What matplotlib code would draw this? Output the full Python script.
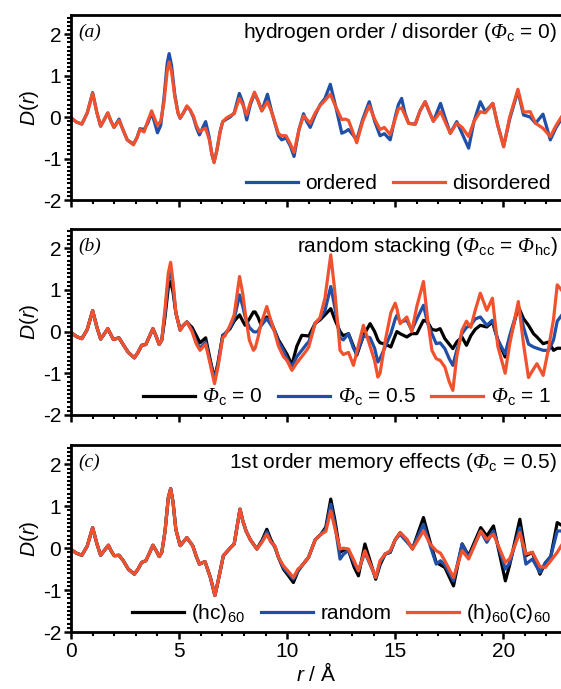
import numpy as np
import matplotlib
matplotlib.use("Agg")
import matplotlib.pyplot as plt
from matplotlib.ticker import MultipleLocator

plt.rcParams['font.family'] = ['Liberation Sans', 'DejaVu Sans']
plt.rcParams['mathtext.fontset'] = 'custom'
plt.rcParams['mathtext.rm'] = 'Liberation Sans'
plt.rcParams['mathtext.it'] = 'Liberation Sans:italic'
plt.rcParams['mathtext.sf'] = 'Liberation Serif:italic'

# ---------------- data (r in Angstrom, D(r)) ----------------
# (a) hydrogen order / disorder
r_a = [0.0, 0.25, 0.5, 0.75, 1.0, 1.2, 1.37, 1.55, 1.7, 1.85, 1.99, 2.22, 2.4, 2.6, 2.89, 3.05, 3.19, 3.38,
       3.55, 3.73, 3.88, 4.0, 4.15, 4.3, 4.45, 4.54, 4.65, 4.8, 4.95, 5.05, 5.2, 5.36, 5.5, 5.66, 5.8, 5.94,
       6.1, 6.23, 6.4, 6.52, 6.62, 6.75, 6.9, 7.02, 7.2, 7.36, 7.55, 7.79, 7.95, 8.13, 8.3, 8.49, 8.65, 8.83,
       9.09, 9.3, 9.6, 9.75, 9.95, 10.15, 10.32, 10.55, 10.76, 10.9, 11.07, 11.3, 11.53, 11.75, 12.0, 12.25,
       12.53, 12.7, 12.84, 13.0, 13.22, 13.5, 13.8, 14.05, 14.3, 14.5, 14.77, 15.0, 15.15, 15.3, 15.45, 15.62,
       15.93, 16.15, 16.39, 16.6, 16.77, 17.1, 17.3, 17.55, 17.85, 18.1, 18.4, 18.65, 18.94, 19.17, 19.52,
       19.75, 20.02, 20.3, 20.68, 20.94, 21.25, 21.5, 21.84, 22.18, 22.45, 22.69]
ordered = [-0.02, -0.12, -0.17, 0.10, 0.59, 0.10, -0.22, -0.05, 0.10, -0.10, -0.25, -0.05, -0.30, -0.55,
           -0.65, -0.50, -0.28, -0.30, -0.15, 0.10, -0.15, -0.38, -0.20, 0.45, 1.30, 1.53, 1.25, 0.55, 0.10,
           -0.03, 0.10, 0.25, 0.18, 0.00, -0.25, -0.43, -0.25, -0.11, -0.50, -0.90, -1.08, -0.80, -0.35, -0.11,
           -0.05, 0.00, 0.10, 0.57, 0.35, -0.07, 0.30, 0.57, 0.40, 0.15, 0.55, 0.10, -0.45, -0.55, -0.50,
           -0.70, -0.95, -0.30, 0.08, -0.10, -0.25, 0.05, 0.30, 0.45, 0.79, 0.25, -0.39, -0.35, -0.30, -0.40,
           -0.55, -0.05, 0.37, -0.10, -0.45, -0.40, -0.55, 0.00, 0.30, 0.45, 0.10, -0.15, -0.17, 0.15, 0.37,
           0.10, -0.10, 0.33, 0.00, -0.39, -0.11, -0.40, -0.75, -0.10, 0.37, 0.13, 0.33, -0.20, -0.70, -0.05,
           0.63, 0.05, 0.00, -0.15, 0.07, -0.55, -0.25, -0.05]
disordered = [-0.02, -0.12, -0.17, 0.10, 0.57, 0.10, -0.22, -0.05, 0.10, -0.10, -0.25, -0.08, -0.30, -0.55,
              -0.67, -0.50, -0.30, -0.36, -0.10, 0.15, -0.05, -0.20, -0.10, 0.35, 1.10, 1.33, 1.10, 0.50,
              0.10, -0.02, 0.10, 0.27, 0.18, 0.03, -0.20, -0.35, -0.30, -0.27, -0.55, -0.90, -1.10, -0.80,
              -0.35, -0.11, -0.02, 0.03, 0.08, 0.45, 0.30, 0.05, 0.35, 0.60, 0.40, 0.15, 0.37, 0.10, -0.40,
              -0.45, -0.45, -0.65, -0.85, -0.30, 0.03, -0.05, -0.15, 0.10, 0.28, 0.40, 0.55, 0.25, -0.06,
              -0.05, -0.08, -0.30, -0.62, -0.10, 0.27, -0.05, -0.30, -0.25, -0.42, -0.05, 0.20, 0.22, 0.05,
              -0.15, -0.18, 0.15, 0.37, 0.10, -0.10, 0.13, -0.10, -0.39, -0.15, -0.25, -0.47, -0.10, 0.13,
              0.10, 0.33, -0.20, -0.72, 0.00, 0.67, 0.12, 0.13, -0.15, -0.27, -0.47, -0.20, 0.00]

# (b) random stacking
r_b = [0.0, 0.25, 0.5, 0.75, 1.0, 1.2, 1.37, 1.55, 1.7, 1.85, 1.96, 2.22, 2.4, 2.65, 2.93, 3.1, 3.27, 3.46,
       3.6, 3.79, 3.93, 4.08, 4.2,
       4.35, 4.5, 4.61, 4.72, 4.85, 5.05, 5.2, 5.36, 5.5, 5.6, 5.8, 5.97, 6.23, 6.45, 6.64, 6.8, 7.02, 7.13,
       7.36, 7.55, 7.8, 7.95, 8.06, 8.25, 8.44, 8.52, 8.65, 8.8, 9.06, 9.2, 9.44, 9.6, 9.83, 10.0, 10.22,
       10.45, 10.68, 10.9, 11.0, 11.3, 11.52, 11.75, 12.02, 12.2, 12.45, 12.6, 12.84, 13.07, 13.22, 13.53,
       13.84, 14.05, 14.2, 14.3, 14.55, 14.8, 15.0, 15.08, 15.23, 15.54, 15.77, 16.0, 16.31, 16.5, 16.7,
       16.9, 17.08, 17.3, 17.5, 17.67, 17.85, 18.09, 18.3, 18.5, 18.7, 18.94, 19.24, 19.5, 19.75, 20.09,
       20.3, 20.7, 20.94, 21.17, 21.4, 21.56, 21.85, 22.1, 22.33, 22.5, 22.69]
head_b = [-0.02, -0.12, -0.17, 0.05, 0.50, 0.10, -0.18, -0.05, 0.07, -0.08, -0.19, -0.15, -0.30, -0.50,
          -0.63, -0.50, -0.33, -0.31, -0.15, 0.07, -0.10, -0.31, -0.20]
phi0_tail = [0.35, 1.05, 1.20, 0.95, 0.45, 0.05, 0.15, 0.23, 0.15, 0.10, -0.10, -0.27, -0.15, -0.70, -1.13,
             -0.75, -0.09, -0.05, 0.07, 0.25, 0.40, 0.25, 0.15, 0.30, 0.47, 0.47, 0.35, 0.15, 0.35, 0.30,
             0.00, -0.20, -0.40, -0.55, -0.80, -0.35, -0.09, -0.10, -0.11, 0.20, 0.28, 0.40, 0.55, 0.30,
             0.00, -0.10, -0.05, -0.35, -0.57, -0.10, 0.19, 0.00, -0.20, -0.27, -0.30, -0.37, -0.10, 0.00,
             -0.05, -0.13, -0.05, -0.05, 0.27, 0.23, 0.05, 0.03, 0.07, -0.17, -0.30, -0.41, -0.25, -0.13,
             -0.33, -0.10, 0.05, 0.15, 0.11, 0.23, -0.20, -0.61, -0.20, 0.60, 0.31, 0.15, -0.05, -0.13,
             -0.29, -0.25, -0.45, -0.40, -0.40]
phi05_tail = [0.45, 1.25, 1.44, 1.10, 0.45, 0.03, 0.15, 0.23, 0.12, 0.03, -0.25, -0.40, -0.25, -0.75, -1.15,
              -0.80, -0.10, -0.05, 0.10, 0.30, 0.88, 0.60, 0.35, 0.10, 0.00, -0.01, 0.00, 0.15, 0.31, 0.20,
              0.00, -0.25, -0.45, -0.65, -0.85, -0.60, -0.45, -0.30, -0.25, 0.20, 0.31, 0.50, 1.08, 0.60,
              -0.15, -0.20, -0.05, -0.40, -0.53, -0.10, -0.15, -0.40, -0.73, -0.65, -0.35, -0.05, 0.30, 0.39,
              0.23, 0.27, 0.03, 0.30, 0.63, 0.20, -0.05, -0.29, -0.27, -0.41, -0.65, -0.81, -0.45, -0.05,
              0.10, 0.15, 0.30, 0.35, 0.15, 0.27, -0.20, -0.53, -0.10, 0.60, 0.11, -0.30, -0.37, -0.40,
              -0.45, -0.45, -0.20, 0.25, 0.38]
phi1_tail = [0.55, 1.40, 1.66, 1.20, 0.45, 0.03, 0.15, 0.23, 0.10, 0.00, -0.30, -0.45, -0.30, -0.80, -1.25,
             -0.85, -0.15, -0.10, 0.15, 0.40, 1.32, 0.90, 0.45, -0.20, -0.45, -0.40, -0.15, 0.20, 0.60, 0.35,
             -0.05, -0.35, -0.60, -0.70, -0.93, -0.75, -0.60, -0.45, -0.37, 0.20, 0.33, 0.80, 1.84, 1.00,
             -0.45, -0.55, -0.50, -0.81, -0.50, 0.15, -0.35, -0.70, -1.09, -1.00, -0.20, 0.45, 0.68, 0.55,
             0.19, 0.35, 0.00, 0.60, 1.20, 0.30, -0.45, -0.65, -0.69, -0.85, -1.20, -1.41, -0.60, 0.03,
             0.25, 0.10, 0.50, 0.92, 0.51, 0.80, -0.35, -1.00, -0.30, 0.72, -0.30, -1.10, -0.90, -0.77,
             -1.05, -0.40, 0.30, 1.12, 1.00]

# (c) 1st order memory effects
r_c = [0.0, 0.25, 0.5, 0.75, 1.0, 1.2, 1.37, 1.55, 1.73, 1.87, 2.0, 2.22, 2.42, 2.65, 2.93, 3.1, 3.27, 3.46,
       3.6, 3.79, 3.93, 4.08, 4.2, 4.35, 4.5, 4.61, 4.72, 4.85, 5.05, 5.2, 5.36, 5.5, 5.63, 5.8, 5.94, 6.2,
       6.45, 6.66, 6.8, 7.05, 7.36, 7.55, 7.82, 7.95, 8.1, 8.3, 8.6,
       8.85, 9.06, 9.25, 9.44, 9.6, 9.83, 10.05, 10.29, 10.5, 10.68, 10.99, 11.3, 11.56, 11.79, 12.02, 12.2,
       12.45, 12.6, 12.84, 13.1, 13.3, 13.6, 14.1, 14.3, 14.54, 14.77, 15.0, 15.23, 15.54, 15.8, 16.31,
       16.62, 16.9, 17.1, 17.3, 17.7, 18.1, 18.4, 18.96, 19.24, 19.55, 20.1, 20.3, 20.77, 21.05, 21.35,
       21.7, 21.95, 22.2, 22.5, 22.69]
head_c = [-0.03, -0.12, -0.17, 0.05, 0.49, 0.10, -0.17, -0.05, 0.07, -0.08, -0.18, -0.17, -0.30, -0.50,
          -0.62, -0.50, -0.34, -0.30, -0.15, 0.07, -0.05, -0.20, -0.10, 0.40, 1.20, 1.42, 1.10, 0.45, 0.06,
          0.15, 0.25, 0.15, 0.06, -0.20, -0.38, -0.32, -0.70, -1.13, -0.80, -0.18, 0.00, 0.10, 0.93, 0.65,
          0.41, 0.20, -0.02]
hc60_tail = [0.20, 0.45, 0.20, 0.02, -0.22, -0.50, -0.65, -0.82, -0.55, -0.42, -0.22, 0.20, 0.33, 0.50, 1.17,
             0.70, -0.10, -0.05, -0.05, -0.45, -0.66, 0.10, -0.74, -0.40, -0.14, -0.10, 0.20, 0.37, 0.20,
             -0.02, 0.73, 0.14, -0.34, -0.40, -0.46, -0.90, 0.10, -0.18, 0.49, 0.29, 0.53, -0.78, -0.40,
             0.69, -0.18, -0.10, -0.62, -0.35, -0.20, 0.61, 0.55]
random_tail = [0.18, 0.39, 0.15, 0.03, -0.22, -0.47, -0.60, -0.74, -0.55, -0.42, -0.22, 0.20, 0.33, 0.45,
               1.05, 0.60, -0.26, -0.15, -0.05, -0.35, -0.54, -0.10, -0.70, -0.35, -0.14, -0.10, 0.20, 0.33,
               0.15, 0.00, 0.57, 0.06, -0.38, -0.30, -0.40, -0.78, 0.10, -0.22, 0.41, 0.14, 0.41, -0.50,
               -0.35, 0.49, -0.38, -0.26, -0.58, -0.35, -0.20, 0.41, 0.41]
h60c60_tail = [0.15, 0.33, 0.15, 0.05, -0.22, -0.42, -0.55, -0.70, -0.50, -0.42, -0.22, 0.20, 0.33, 0.40,
               0.89, 0.50, -0.02, 0.00, -0.02, -0.30, -0.54, -0.06, -0.70, -0.30, -0.14, -0.06, 0.20, 0.37,
               0.21, -0.02, 0.41, 0.10, -0.06, -0.12, -0.30, -0.70, -0.06, -0.26, 0.41, 0.21, 0.33, -0.34,
               -0.25, 0.37, -0.14, -0.10, -0.44, -0.46, -0.30, -0.10, 0.06]

BLUE = '#1f4fa6'
RED = '#f2512e'
BLACK = '#000000'
FS = 15

PHI = r'\mathsf{Φ}'

fig = plt.figure(figsize=(5.61, 6.89), dpi=100)
axes = [fig.add_axes([0.1266, 0.7097, 0.874, 0.2685]),
        fig.add_axes([0.1266, 0.3977, 0.874, 0.2700]),
        fig.add_axes([0.1266, 0.0827, 0.874, 0.2714])]

lw = 2.3
ax = axes[0]
ax.plot(r_a, ordered, color=BLUE, lw=lw, label='ordered')
ax.plot(r_a, disordered, color=RED, lw=lw, label='disordered')
titles = [r'hydrogen order / disorder ($' + PHI + r'_{\mathrm{c}}$ = 0)',
          r'random stacking ($' + PHI + r'_{\mathrm{cc}}$ = $' + PHI + r'_{\mathrm{hc}}$)',
          r'1st order memory effects ($' + PHI + r'_{\mathrm{c}}$ = 0.5)']

ax = axes[1]
ax.plot(r_b, head_b + phi0_tail, color=BLACK, lw=lw, label=r'$' + PHI + r'_{\mathrm{c}}$ = 0')
ax.plot(r_b, head_b + phi05_tail, color=BLUE, lw=lw, label=r'$' + PHI + r'_{\mathrm{c}}$ = 0.5')
ax.plot(r_b, head_b + phi1_tail, color=RED, lw=lw, label=r'$' + PHI + r'_{\mathrm{c}}$ = 1')

ax = axes[2]
ax.plot(r_c, head_c + hc60_tail, color=BLACK, lw=lw, label=r'(hc)$_{60}$')
ax.plot(r_c, head_c + random_tail, color=BLUE, lw=lw, label='random')
ax.plot(r_c, head_c + h60c60_tail, color=RED, lw=lw, label=r'(h)$_{60}$(c)$_{60}$')

for i, ax in enumerate(axes):
    ax.set_xlim(0, 22.69)
    ax.set_ylim(-2, 2.46)
    ax.xaxis.set_major_locator(MultipleLocator(5))
    ax.xaxis.set_minor_locator(MultipleLocator(1))
    ax.yaxis.set_major_locator(MultipleLocator(1))
    ax.yaxis.set_minor_locator(MultipleLocator(0.1))
    ax.tick_params(which='major', direction='out', length=5, width=1.8, labelsize=FS, pad=2)
    ax.tick_params(which='minor', direction='out', length=3, width=1.5)
    ax.tick_params(top=False, right=False)
    for s in ['left', 'bottom', 'top']:
        ax.spines[s].set_linewidth(2.0)
    ax.spines['right'].set_visible(False)
    ax.set_yticks([-2, -1, 0, 1, 2])
    ax.set_yticklabels(['-2', '-1', '0', '1', '2'])
    if i < 2:
        ax.set_xticklabels([])
    ax.set_ylabel(r'$D$($r$)', fontsize=FS, labelpad=1)
    ax.text(0.015, 0.905, '(' + 'abc'[i] + ')', transform=ax.transAxes, ha='left', va='center',
            fontsize=14, fontfamily='Liberation Serif', style='italic')
    ax.text(0.992, 0.905, titles[i], transform=ax.transAxes, ha='right', va='center', fontsize=FS)
    ax.legend(loc='lower right', bbox_to_anchor=(1.0, -0.02), ncol=3, frameon=False, fontsize=FS,
              handlelength=2.5, handletextpad=0.35, columnspacing=0.75, borderaxespad=0.1)

axes[2].set_xlabel(r'$r$ / Å', fontsize=FS, labelpad=1)

fig.savefig('out.png', dpi=100)
